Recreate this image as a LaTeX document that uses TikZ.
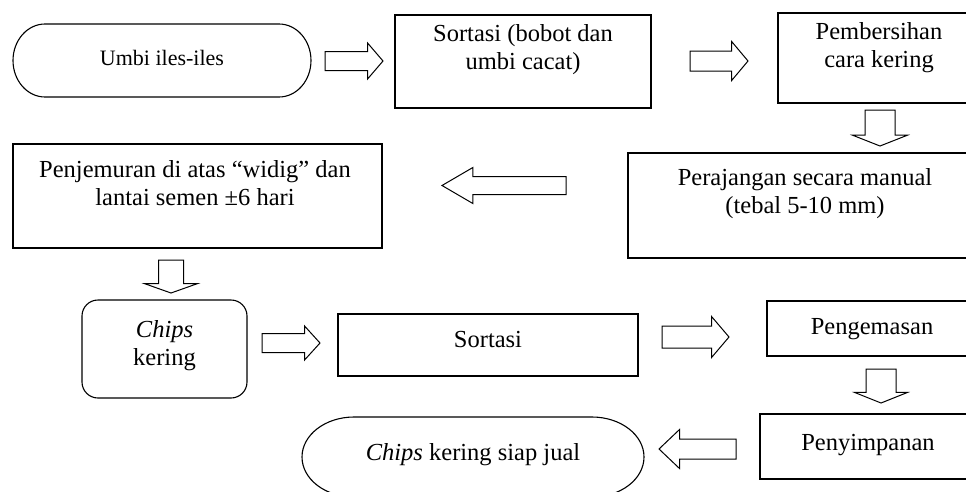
\documentclass[tikz,border=0pt]{standalone}
\usepackage{fontspec}
\setmainfont{Liberation Serif}
\usetikzlibrary{shapes.arrows}
\newcommand\firststrut{\rule{0pt}{18pt}}
\begin{document}
\begin{tikzpicture}[x=1pt, y=-1pt,
  every node/.style={inner sep=0pt, outer sep=0pt},
  box/.style={draw, line width=1.1pt, rectangle},
  txt/.style={font=\fontsize{24.5}{28}\selectfont, align=center, anchor=north},
  barrow/.style={draw, line width=1pt, single arrow, single arrow head indent=0pt,
    text depth=0pt, anchor=tip},
  outline/.style={line width=1.1pt},
]
\clip (0,0) rectangle (966,491);

% ---- process boxes ----
\node[minimum width=298pt, minimum height=73pt] (s1) at (162,60.5) {};
\draw[outline] ([xshift=32pt]s1.north west) -- ([xshift=-32pt]s1.north east)
  arc[start angle=90, end angle=-90, x radius=32pt, y radius=36.5pt]
  -- ([xshift=32pt]s1.south west)
  arc[start angle=270, end angle=90, x radius=32pt, y radius=36.5pt] -- cycle;
\node[txt, font=\fontsize{22}{26}\selectfont] (s1t) at (162,47) {\firststrut Umbi iles-iles};

\node[box, minimum width=256pt, minimum height=93pt] (b2) at (523,61.5) {};
\node[txt] (b2t) at (523,23) {\firststrut Sortasi (bobot dan\\umbi cacat)};

\node[box, minimum width=202pt, minimum height=90pt] (b3) at (879,58) {};
\node[txt] (b3t) at (879,21) {\firststrut Pembersihan\\cara kering};

\node[box, minimum width=354pt, minimum height=105pt] (b4) at (805,205.5) {};
\node[txt] (b4t) at (805,167) {\firststrut Perajangan secara manual\\(tebal 5-10 mm)};

\node[box, minimum width=369pt, minimum height=104pt] (b5) at (197.5,196) {};
\node[txt] (b5t) at (195,159) {\firststrut Penjemuran di atas “widig” dan\\lantai semen ±6 hari};

\node[box, rounded corners=16pt, minimum width=165pt, minimum height=98pt] (b6) at (164.5,349) {};
\node[txt] (b6t) at (164.5,319) {\firststrut\textit{Chips}\\kering};

\node[box, minimum width=300pt, minimum height=62pt] (b7) at (488,345) {};
\node[txt] (b7t) at (488,329) {\firststrut Sortasi};

\node[box, minimum width=210pt, minimum height=55pt] (b8) at (872,328.5) {};
\node[txt] (b8t) at (872,316) {\firststrut Pengemasan};

\node[box, minimum width=216pt, minimum height=65pt] (b9) at (868,446.5) {};
\node[txt] (b9t) at (868,432) {\firststrut Penyimpanan};

\node[minimum width=342pt, minimum height=80pt] (s10) at (473,457) {};
\draw[outline] ([xshift=52pt]s10.north west) -- ([xshift=-52pt]s10.north east)
  arc[start angle=90, end angle=-90, x radius=52pt, y radius=40pt]
  -- ([xshift=52pt]s10.south west)
  arc[start angle=270, end angle=90, x radius=52pt, y radius=40pt] -- cycle;
\node[txt] (s10t) at (473,442) {\firststrut\textit{Chips} kering siap jual};

% ---- block arrows between the steps (text height = shaft width) ----
\node[barrow, minimum height=58pt, text height=18pt, single arrow head extend=8.5pt,
  single arrow tip angle=98.8] (a1) at (383,61) {};
\node[barrow, minimum height=58pt, text height=19pt, single arrow head extend=9.5pt,
  single arrow tip angle=100] (a2) at (748,61) {};
\node[barrow, rotate=-90, minimum height=36pt, text height=29pt, single arrow head extend=12.5pt,
  single arrow tip angle=137] (a3) at (880,146) {};
\node[barrow, rotate=180, minimum height=124pt, text height=17pt, single arrow head extend=9pt,
  single arrow tip angle=60.5] (a4) at (442,185.5) {};
\node[barrow, rotate=-90, minimum height=33pt, text height=24pt, single arrow head extend=14pt,
  single arrow tip angle=141] (a5) at (171,293) {};
\node[barrow, minimum height=58pt, text height=18pt, single arrow head extend=7.5pt,
  single arrow tip angle=95.5] (a6) at (320,343) {};
\node[barrow, minimum height=67pt, text height=21pt, single arrow head extend=9.5pt,
  single arrow tip angle=99.2] (a7) at (729,337) {};
\node[barrow, rotate=-90, minimum height=34pt, text height=29pt, single arrow head extend=11.5pt,
  single arrow tip angle=136.4] (a8) at (881,403) {};
\node[barrow, rotate=180, minimum height=77pt, text height=19pt, single arrow head extend=9.5pt,
  single arrow tip angle=87.1] (a9) at (659,449) {};
\end{tikzpicture}
\end{document}
